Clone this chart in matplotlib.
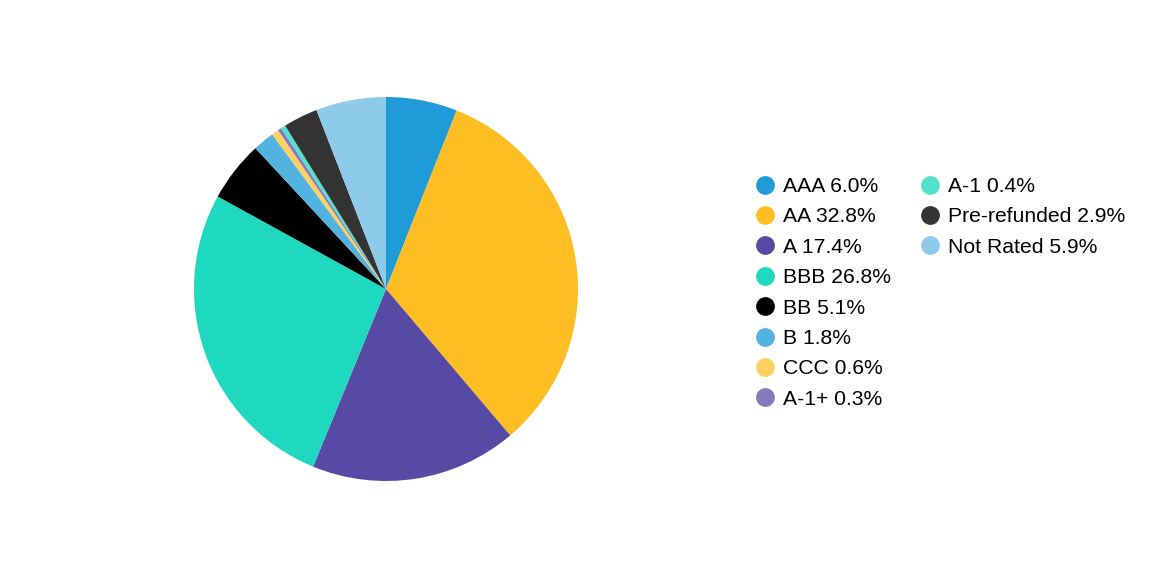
import matplotlib
matplotlib.use("Agg")
import matplotlib.pyplot as plt
from matplotlib.lines import Line2D

plt.rcParams['font.family'] = ['Liberation Sans', 'DejaVu Sans']

labels = ["AAA", "AA", "A", "BBB", "BB", "B", "CCC", "A-1+", "A-1", "Pre-refunded", "Not Rated"]
values = [6.0, 32.8, 17.4, 26.8, 5.1, 1.8, 0.6, 0.3, 0.4, 2.9, 5.9]
colors = ["#1f9bd7", "#fdbe24", "#574aa5", "#1ed8c0", "#000000", "#52b2e0",
          "#fed160", "#8578bd", "#54e0cf", "#333333", "#8ecbea"]

fig = plt.figure(figsize=(11.52, 5.88), dpi=100)
ax = fig.add_axes([(386 - 192) / 1152, 1 - (289 + 192) / 588, 384 / 1152, 384 / 588])
ax.pie(values, colors=colors, startangle=90, counterclock=False,
       wedgeprops=dict(linewidth=0))
ax.set_aspect('equal')
ax.set_xlim(-1, 1)
ax.set_ylim(-1, 1)

handles = [Line2D([0], [0], marker='o', linestyle='none', markersize=12.5,
                  markerfacecolor=c, markeredgecolor=c) for c in colors]
leg_labels = [f"{l} {v:.1f}%" for l, v in zip(labels, values)]

common = dict(loc='upper left', frameon=False, fontsize=15.2, handlelength=0.8,
              handletextpad=0.45, labelspacing=0.54, borderaxespad=0, borderpad=0)
fig.legend(handles[:8], leg_labels[:8],
           bbox_to_anchor=(756.5 / 1152, 1 - 177 / 588), **common)
fig.legend(handles[8:], leg_labels[8:],
           bbox_to_anchor=(921.5 / 1152, 1 - 177 / 588), **common)

fig.savefig("out.png", dpi=100)
